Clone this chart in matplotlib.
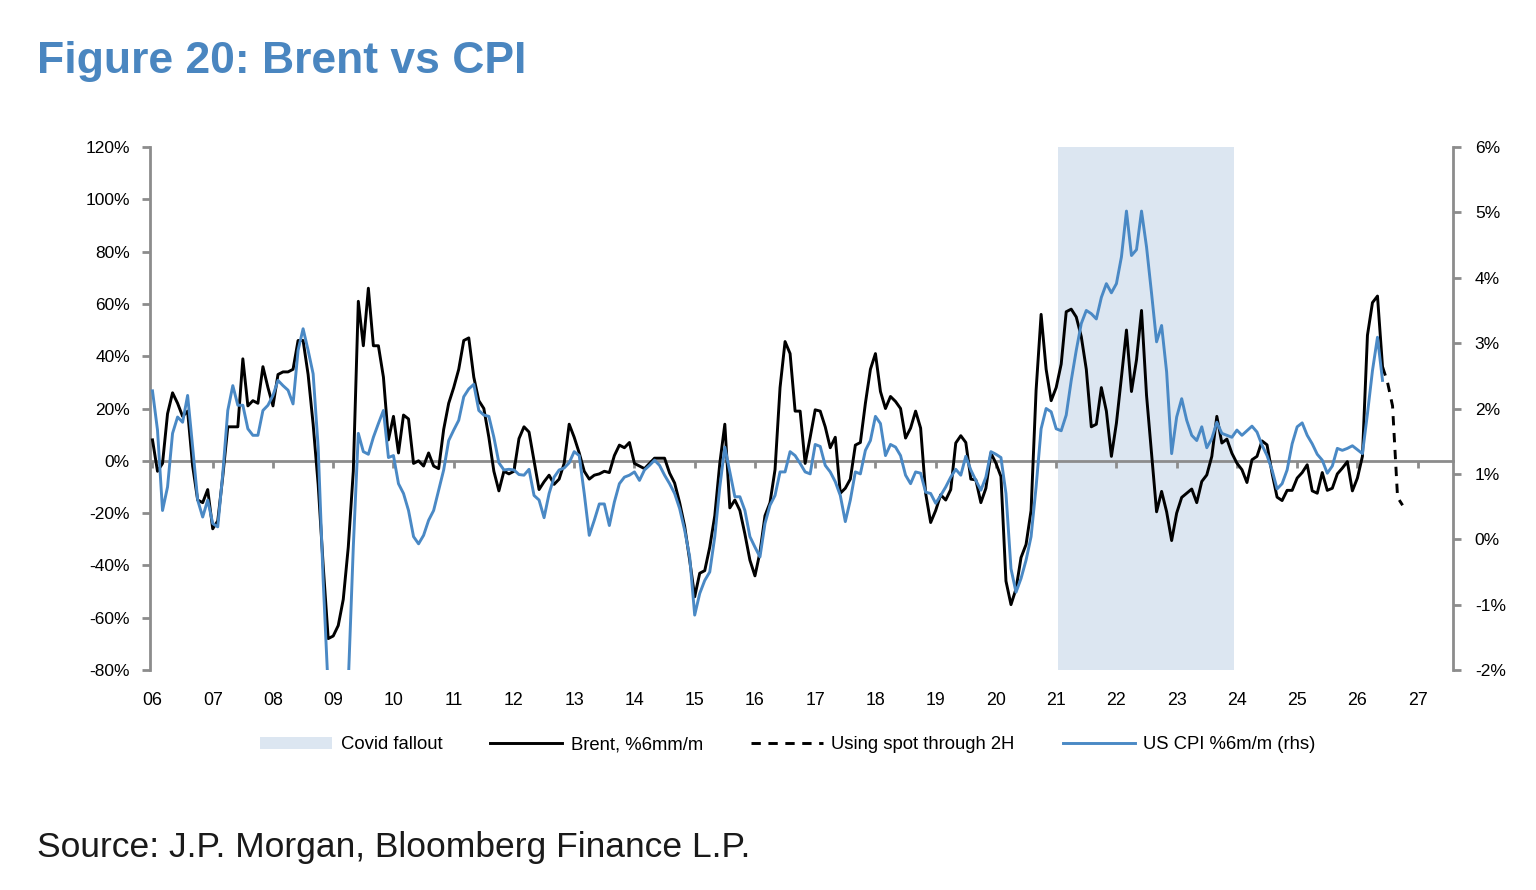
import numpy as np
import matplotlib
matplotlib.use("Agg")
import matplotlib.pyplot as plt
from matplotlib.lines import Line2D
from matplotlib.patches import Patch

# Brent, %6m/m (monthly from Jan 2006)
brent = [8, -4, -1, 18, 26, 22, 17, 19, -2, -15,
         -16, -11, -26, -23, -6, 13, 13, 13, 39, 21,
         23, 22, 36, 28, 21, 33, 34, 34, 35, 46,
         46, 33, 14, -9, -40, -68, -67, -63, -53, -33,
         -4, 61, 44, 66, 44, 44, 32, 8, 17, 3,
         17.5, 16, -1, 0, -2, 3, -2, -3, 12, 22,
         28, 35, 46, 47, 32, 23, 20, 9, -4, -11.5,
         -4, -5, -4, 8.5, 13, 11, 0, -11, -8, -5.5,
         -9, -7, -1, 14, 9, 3, -4, -7, -5.5, -5,
         -4, -4.5, 2, 6, 5, 7, -1, -2, -3, -1,
         1, 1, 1, -4.7, -8.5, -16, -25, -38, -52, -43,
         -42, -33, -21, -1, 14, -18, -15, -19, -28, -38,
         -44, -35, -21, -16, -3.4, 28, 45.6, 41, 19, 19,
         -1, 9, 19.5, 19, 13, 5, 9, -12.4, -10.5, -7,
         6, 7, 22, 35, 41, 26.5, 20, 24.6, 22.7, 20,
         8.7, 12.5, 19, 12.5, -12.4, -23.6, -19, -13, -15, -11,
         6.8, 9.6, 7, -7, -7.3, -16, -10.5, 2.9, -0.9, -6,
         -46, -55, -49, -37, -32, -19, 27, 56, 35, 23,
         28, 37, 57, 58, 55, 47.5, 35, 13, 14, 28,
         19, 1.7, 14.4, 32, 50, 26.5, 38.6, 57.5, 25, 2.9,
         -19.5, -11.7, -19.5, -30.5, -20, -14, -12.4, -10.8, -16, -7.9,
         -5.4, 1.7, 17, 6.8, 8.3, 2.9, -0.9, -3.4, -8.3, 0.4,
         1.7, 7.6, 6.1, -4.7, -13.9, -15.2, -11.3, -11.3, -6.6, -4.5,
         -1.5, -11.5, -12.4, -4.5, -11.3, -10.5, -5, -2.8, -0.3, -11.5,
         -6.6, 1.7, 48, 60.5, 63, 36]

# Brent using spot through 2H (continues from the last Brent month)
brent_spot = [36, 30, 21, -14, -17]

# US CPI %6m/m, right axis
cpi = [2.27, 1.67, 0.44, 0.80, 1.62, 1.87, 1.79, 2.20, 1.41, 0.60,
       0.34, 0.60, 0.24, 0.19, 1.0, 1.97, 2.35, 2.05, 2.05, 1.69,
       1.59, 1.59, 1.97, 2.05, 2.20, 2.43, 2.35, 2.28, 2.07, 2.89,
       3.22, 2.89, 2.53, 1.41, -0.63, -2.3, -3.0, -3.3, -3.0, -2.2,
       -0.12, 1.62, 1.34, 1.30, 1.56, 1.77, 1.97, 1.25, 1.28, 0.85,
       0.70, 0.44, 0.04, -0.07, 0.06, 0.29, 0.44, 0.75, 1.06, 1.51,
       1.67, 1.82, 2.18, 2.30, 2.37, 1.97, 1.90, 1.88, 1.56, 1.17,
       1.06, 1.07, 1.06, 0.99, 0.98, 1.07, 0.67, 0.60, 0.33, 0.70,
       0.95, 1.06, 1.09, 1.17, 1.34, 1.28, 0.70, 0.06, 0.29, 0.54,
       0.54, 0.21, 0.57, 0.85, 0.95, 0.98, 1.03, 0.90, 1.06, 1.13,
       1.21, 1.13, 0.98, 0.85, 0.70, 0.47, 0.14, -0.27, -1.16, -0.83,
       -0.63, -0.50, 0.04, 0.80, 1.41, 1.03, 0.65, 0.65, 0.44, 0.04,
       -0.12, -0.27, 0.24, 0.52, 0.67, 1.03, 1.03, 1.34, 1.28, 1.16,
       1.03, 1.00, 1.45, 1.42, 1.13, 1.03, 0.88, 0.67, 0.27, 0.60,
       1.03, 1.00, 1.36, 1.51, 1.88, 1.77, 1.28, 1.45, 1.41, 1.28,
       0.98, 0.85, 1.03, 1.01, 0.72, 0.70, 0.55, 0.67, 0.80, 0.95,
       1.07, 0.98, 1.27, 1.06, 0.90, 0.75, 0.95, 1.34, 1.30, 1.25,
       0.70, -0.45, -0.81, -0.60, -0.32, 0.04, 0.80, 1.69, 2.0, 1.95,
       1.69, 1.66, 1.90, 2.43, 2.89, 3.30, 3.50, 3.45, 3.37, 3.70,
       3.91, 3.77, 3.91, 4.32, 5.02, 4.34, 4.43, 5.02, 4.47, 3.76,
       3.02, 3.27, 2.56, 1.31, 1.87, 2.15, 1.82, 1.59, 1.51, 1.72,
       1.40, 1.54, 1.79, 1.62, 1.59, 1.56, 1.67, 1.59, 1.66, 1.73,
       1.64, 1.44, 1.28, 1.06, 0.77, 0.85, 1.06, 1.46, 1.72, 1.78,
       1.59, 1.46, 1.30, 1.21, 1.01, 1.12, 1.39, 1.36, 1.39, 1.43,
       1.37, 1.31, 1.92, 2.58, 3.09, 2.43]

start_year = 2006
covid_start, covid_end = 2021.03, 2023.95
years = list(range(2006, 2028))
year_labels = ["%02d" % (y % 100) for y in years]
left_ticks = [-80, -60, -40, -20, 0, 20, 40, 60, 80, 100, 120]
right_ticks = [-2, -1, 0, 1, 2, 3, 4, 5, 6]

GRAY = "#8C8C8C"
BLUE = "#4A89C5"
TITLE_BLUE = "#4A86C0"
SHADE = "#DCE6F1"
FONT = ["Liberation Sans", "DejaVu Sans"]
LW = 2.1

plt.rcParams["font.family"] = FONT

x_brent = start_year + np.arange(len(brent)) / 12
x_cpi = start_year + np.arange(len(cpi)) / 12
x_spot = x_brent[-1] + np.arange(len(brent_spot)) / 12

fig = plt.figure(figsize=(15.36, 8.9), dpi=100)
ax = fig.add_axes([0.0977, 0.2472, 0.848, 0.5876])
ax2 = ax.twinx()

ax.axvspan(covid_start, covid_end, color=SHADE, lw=0, zorder=0)
ax.plot(x_brent, brent, color="black", lw=LW, zorder=3)
ax.plot(x_spot, brent_spot, color="black", lw=LW, dashes=(3.2, 2.6), zorder=3)
ax2.plot(x_cpi, cpi, color=BLUE, lw=LW, zorder=2)

ax.set_xlim(2005.96, 2027.58)
ax.set_ylim(-80, 120)
ax2.set_ylim(-2, 6)

# left axis
ax.set_yticks(left_ticks)
ax.set_yticklabels(["%d%%" % v for v in left_ticks], fontsize=12.5)
ax.tick_params(axis="y", direction="out", length=6, width=2, color=GRAY, pad=8.5)
for s in ["top", "right", "bottom"]:
    ax.spines[s].set_visible(False)
ax.spines["left"].set_color(GRAY)
ax.spines["left"].set_linewidth(2)

# year labels along the bottom
ax.set_xticks(years)
ax.set_xticklabels(year_labels, fontsize=12.8)
ax.tick_params(axis="x", length=0, pad=16)

# zero line with the year ticks
zero = ax.secondary_xaxis(0.4)
zero.set_xticks(years)
zero.tick_params(axis="x", direction="out", length=5, width=2, color=GRAY, labelbottom=False)
zero.spines["bottom"].set_color(GRAY)
zero.spines["bottom"].set_linewidth(2)

# right axis
ax2.set_yticks(right_ticks)
ax2.set_yticklabels(["%d%%" % v for v in right_ticks], fontsize=12.5)
ax2.tick_params(axis="y", direction="out", length=6, width=2, color=GRAY, pad=10)
for s in ["top", "left", "bottom"]:
    ax2.spines[s].set_visible(False)
ax2.spines["right"].set_color(GRAY)
ax2.spines["right"].set_linewidth(2)

handles = [Patch(facecolor=SHADE, edgecolor="none"),
           Line2D([], [], color="black", lw=LW),
           Line2D([], [], color="black", lw=LW, dashes=(3.2, 2.6)),
           Line2D([], [], color=BLUE, lw=LW)]
labels = ["Covid fallout", "Brent, %6mm/m", "Using spot through 2H", "US CPI %6m/m (rhs)"]
fig.legend(handles, labels, loc="center", bbox_to_anchor=(0.513, 0.163), ncol=4,
           frameon=False, handlelength=3.9, handleheight=0.6, columnspacing=2.6,
           handletextpad=0.45, prop={"size": 13.3})

fig.text(0.024, 0.918, "Figure 20: Brent vs CPI", color=TITLE_BLUE, fontsize=32,
         fontweight="bold", va="baseline")
fig.text(0.024, 0.037, "Source: J.P. Morgan, Bloomberg Finance L.P.", color="#1A1A1A",
         fontsize=25.5, va="baseline")

fig.savefig("out.png", dpi=100)
